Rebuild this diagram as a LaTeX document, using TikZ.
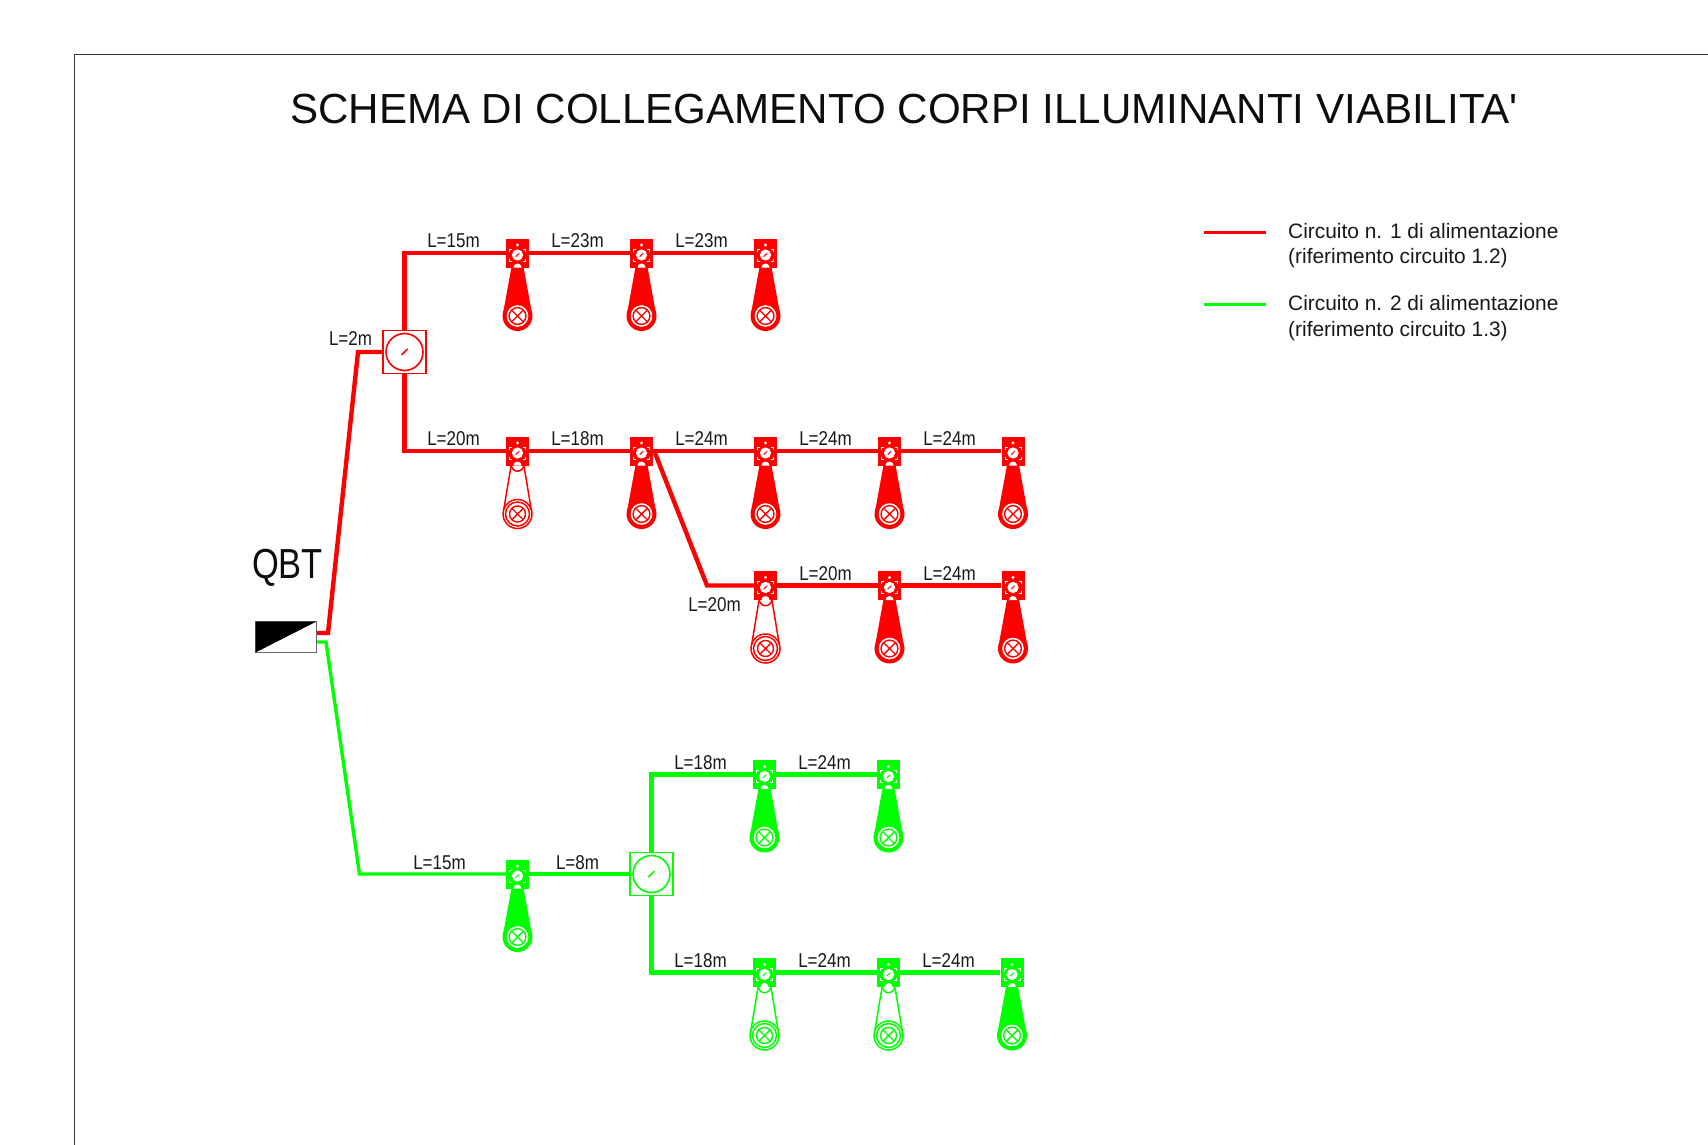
\documentclass[tikz,border=0pt]{standalone}
\usepackage{fontspec}
\setmainfont{Liberation Sans}
\newfontfamily\titlef{Liberation Sans}
\newfontfamily\narrowf[FakeStretch=0.85]{Liberation Sans}
\newfontfamily\qbtf[FakeStretch=0.82]{Liberation Sans}
\definecolor{cred}{RGB}{255,0,0}
\definecolor{cgreen}{RGB}{0,255,0}
\tikzset{
  wire/.style={line width=4.4pt,line join=miter},
  lbl/.style={font=\narrowf\fontsize{20}{20}\selectfont,inner sep=0pt,text=black!90,anchor=base},
  legtxt/.style={font=\fontsize{20.9}{25.5}\selectfont,inner sep=0pt,anchor=west,align=left,text=black!90},
  lampbox/.style={rectangle,minimum width=23pt,minimum height=29pt,inner sep=0pt,fill=#1,draw=none},
  jbox/.style={rectangle,minimum size=43pt,inner sep=0pt,draw=#1,fill=white,line width=1.5pt},
}
% \lampico{name}{x}{y}{colour}{1 = solid tail, 0 = hollow tail}
\newcommand{\lampico}[5]{%
  \begin{scope}[shift={(#2,#3)}]
    \ifnum#5=1
      \fill[#4] (-6,14) -- (6,14) -- (14.4,60) -- (-14.4,60) -- cycle;
      \fill[#4] (0,63) circle[radius=15];
      \fill[white] (0,63) circle[radius=10.8];
      \draw[#4,line width=1.4pt] (0,63) circle[radius=8.4];
    \else
      \draw[#4,line width=1.5pt] (-6.5,15) -- (-13.8,59);
      \draw[#4,line width=1.5pt] (6.5,15) -- (13.8,59);
      \draw[#4,line width=1.5pt] (0,63) circle[radius=14.5];
      \draw[#4,line width=1.5pt] (0,63) circle[radius=12];
      \draw[#4,line width=1.4pt] (0,63) circle[radius=8];
      \draw[#4,line width=1.5pt] (0,14) circle[radius=6.2];
    \fi
    \draw[#4,line width=1.4pt] (-5.5,57.5) -- (5.5,68.5) (-5.5,68.5) -- (5.5,57.5);
    \node[lampbox=#4] (#1) at (0,0) {};
    \fill[white] (0,-8) circle[radius=1.6];
    \fill[white] (0,2) circle[radius=5.6];
    \draw[#4,line width=1pt] (-1.8,3.6) -- (1.8,0.2);
    \draw[white,line width=.9pt] (-8,-1.5) -- (-8,-4) -- (-5.5,-4) (8,-1.5) -- (8,-4) -- (5.5,-4)
       (-8,5.5) -- (-8,8) -- (-5.5,8) (8,5.5) -- (8,8) -- (5.5,8);
    \fill[white] (-4,14.5) arc[start angle=180,end angle=360,radius=4] -- cycle;
  \end{scope}%
}
% \jboxico{name}{x}{y}{colour}
\newcommand{\jboxico}[4]{%
  \node[jbox=#4] (#1) at (#2,#3) {};
  \draw[#4,line width=1.6pt] (#2,#3) circle[radius=18.5];
  \draw[#4,line width=1.6pt] (#2-3,#3+3) -- (#2+3,#3-3);
}
\begin{document}
\begin{tikzpicture}[x=1pt,y=-1pt]
\useasboundingbox (0,0) rectangle (1708,1145);
\fill[white] (0,0) rectangle (1708,1145);
% frame
\draw[black!80,line width=1pt] (74,1145) -- (74,54.5) -- (1708,54.5);
% title
\node[font=\titlef\fontsize{42.1}{42}\selectfont,inner sep=0pt,text=black!95] (title) at (904,109) {SCHEMA DI COLLEGAMENTO CORPI ILLUMINANTI VIABILITA'};
% QBT
\node[font=\qbtf\fontsize{42}{42}\selectfont,inner sep=0pt,text=black!95] (qbtlabel) at (287.5,568) {QBT};
\node[rectangle,minimum width=61pt,minimum height=31pt,inner sep=0pt,draw=black!60,line width=1pt,fill=white] (qbt) at (286,637) {};
\fill[black] (255.5,621.5) -- (316.5,621.5) -- (255.5,652.5) -- cycle;
% junctions
\jboxico{jr}{404.5}{352}{cred}
\jboxico{jg}{651.5}{874}{cgreen}
% lamps red
\lampico{r1}{517.5}{253}{cred}{1}
\lampico{r2}{641.5}{253}{cred}{1}
\lampico{r3}{765.5}{253}{cred}{1}
\lampico{s1}{517.5}{451}{cred}{0}
\lampico{s2}{641.5}{451}{cred}{1}
\lampico{s3}{765.5}{451}{cred}{1}
\lampico{s4}{889.5}{451}{cred}{1}
\lampico{s5}{1013}{451}{cred}{1}
\lampico{t1}{765.5}{585.5}{cred}{0}
\lampico{t2}{889.5}{585.5}{cred}{1}
\lampico{t3}{1013}{585.5}{cred}{1}
% lamps green
\lampico{g1}{764.5}{774.5}{cgreen}{1}
\lampico{g2}{888.5}{774.5}{cgreen}{1}
\lampico{m1}{517.5}{874}{cgreen}{1}
\lampico{h1}{764.5}{972.5}{cgreen}{0}
\lampico{h2}{888.5}{972.5}{cgreen}{0}
\lampico{h3}{1012}{972.5}{cgreen}{1}
% free bends
\coordinate (a0) at (317,633);
\coordinate (a1) at (328,633);
\coordinate (a2) at (358,352);
\coordinate (b0) at (404.5,253);
\coordinate (b1) at (404.5,451);
\coordinate (c0) at (655,453);
\coordinate (c1) at (707,585.5);
\coordinate (d0) at (317,642);
\coordinate (d1) at (326,642);
\coordinate (d2) at (359.5,874);
\coordinate (e0) at (651.5,774.5);
\coordinate (e1) at (651.5,972.5);
% red wires
\draw[wire,cred] (a0) -- (a1) -- (a2) -- (jr.west);
\draw[wire,cred] (jr.north) -- (b0) -- (r1.west);
\draw[wire,cred] (r1.east) -- (r2.west) (r2.east) -- (r3.west);
\draw[wire,cred] (jr.south) -- (b1) -- (s1.west);
\draw[wire,cred] (s1.east) -- (s2.west) (s2.east) -- (s3.west) (s3.east) -- (s4.west) (s4.east) -- (s5.west);
\draw[wire,cred] (c0) -- (c1) -- (t1.west);
\draw[wire,cred] (t1.east) -- (t2.west) (t2.east) -- (t3.west);
% green wires
\draw[line width=3.4pt,cgreen] (d0) -- (d1) -- (d2) -- (m1.west);
\draw[wire,cgreen] (m1.east) -- (jg.west);
\draw[wire,cgreen] (jg.north) -- (e0) -- (g1.west);
\draw[wire,cgreen] (g1.east) -- (g2.west);
\draw[wire,cgreen] (jg.south) -- (e1) -- (h1.west);
\draw[wire,cgreen] (h1.east) -- (h2.west) (h2.east) -- (h3.west);
% length labels
\node[lbl] (l1) at (453.5,247) {L=15m};
\node[lbl] (l2) at (577.5,247) {L=23m};
\node[lbl] (l3) at (701.5,247) {L=23m};
\node[lbl] (l4) at (350.5,345) {L=2m};
\node[lbl] (l5) at (453.5,445) {L=20m};
\node[lbl] (l6) at (577.5,445) {L=18m};
\node[lbl] (l7) at (701.5,445) {L=24m};
\node[lbl] (l8) at (825.5,445) {L=24m};
\node[lbl] (l9) at (949.5,445) {L=24m};
\node[lbl] (l10) at (825.5,580) {L=20m};
\node[lbl] (l11) at (949.5,580) {L=24m};
\node[lbl] (l12) at (714.5,611) {L=20m};
\node[lbl] (l13) at (700.5,769) {L=18m};
\node[lbl] (l14) at (824.5,769) {L=24m};
\node[lbl] (l15) at (439.5,869) {L=15m};
\node[lbl] (l16) at (577.5,869) {L=8m};
\node[lbl] (l17) at (700.5,967) {L=18m};
\node[lbl] (l18) at (824.5,967) {L=24m};
\node[lbl] (l19) at (948.5,967) {L=24m};
% legend
\coordinate (k1a) at (1204,232.5);
\coordinate (k1b) at (1266,232.5);
\coordinate (k2a) at (1204,304.5);
\coordinate (k2b) at (1266,304.5);
\draw[line width=3.4pt,cred] (k1a) -- (k1b);
\draw[line width=3.4pt,cgreen] (k2a) -- (k2b);
\node[legtxt] (t1a) at (1288,245.5) {Circuito n. 1 di alimentazione\\(riferimento circuito 1.2)};
\node[legtxt] (t2a) at (1288,318) {Circuito n. 2 di alimentazione\\(riferimento circuito 1.3)};
\end{tikzpicture}
\end{document}
